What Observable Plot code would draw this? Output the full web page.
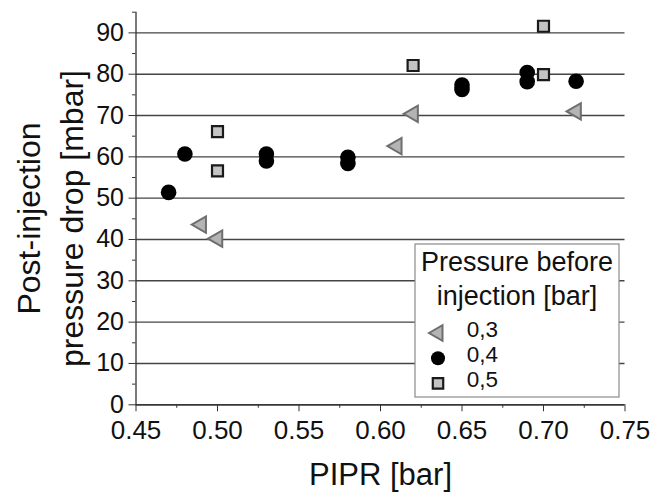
<!DOCTYPE html>
<html>
<head>
<meta charset="utf-8">
<script src="https://cdn.jsdelivr.net/npm/d3@7"></script>
<script src="https://cdn.jsdelivr.net/npm/@observablehq/plot@0.6"></script>
<style>
  html, body { margin: 0; padding: 0; background: #fff; }
  #wrap { position: relative; width: 667px; height: 493px; font-family: "Liberation Sans", Arial, sans-serif; color: #111; }
  #legend { position: absolute; left: 0; top: 0; pointer-events: none; }
</style>
</head>
<body>
<div id="wrap"></div>
<script>
// ---- data ----
const groups = ["0,3", "0,4", "0,5"];
const PIPR_03 = [0.49, 0.50, 0.61, 0.62, 0.72];
const DROP_03 = [43.6, 40.2, 62.6, 70.4, 71.0];
const PIPR_04 = [0.47, 0.48, 0.53, 0.53, 0.58, 0.58, 0.65, 0.65, 0.69, 0.69, 0.72];
const DROP_04 = [51.4, 60.7, 60.7, 59.0, 59.9, 58.4, 77.4, 76.3, 80.4, 78.2, 78.3];
const PIPR_05 = [0.50, 0.50, 0.62, 0.70, 0.70];
const DROP_05 = [66.1, 56.6, 82.1, 91.6, 79.9];
const xTicks = [0.45, 0.50, 0.55, 0.60, 0.65, 0.70, 0.75];
const xMinor = [0.475, 0.525, 0.575, 0.625, 0.675, 0.725];
const yTicks = [0, 10, 20, 30, 40, 50, 60, 70, 80, 90];
const yMinor = [5, 15, 25, 35, 45, 55, 65, 75, 85, 95];
const xLabel = "PIPR [bar]";
const yLabel = "Post-injection\npressure drop [mbar]";
const legendTitle = ["Pressure before", "injection [bar]"];

const toRows = (xs, ys, g) => xs.map((x, i) => ({x, y: ys[i], g}));
const d03 = toRows(PIPR_03, DROP_03, groups[0]);
const d04 = toRows(PIPR_04, DROP_04, groups[1]);
const d05 = toRows(PIPR_05, DROP_05, groups[2]);

const sty = {
  tri: {symbol: "triangle", r: 6.1, fill: "#b4b4b4", stroke: "#6e6e6e", strokeWidth: 2, rotate: -90},
  cir: {symbol: "circle", r: 7.8, fill: "#000", stroke: "none"},
  sq:  {symbol: "square", r: 6.2, fill: "#c4c4c4", stroke: "#1a1a1a", strokeWidth: 2.2}
};

const chart = Plot.plot({
  width: 667,
  height: 493,
  marginLeft: 135.5,
  marginRight: 42.5,
  marginTop: 11.7,
  marginBottom: 88.7,
  style: {fontFamily: "Liberation Sans, Arial, sans-serif", color: "#111", background: "#fff"},
  x: {domain: [0.45, 0.75], label: null},
  y: {domain: [0, 95], label: null},
  marks: [
    Plot.gridY(yTicks, {stroke: "#444", strokeOpacity: 1, strokeWidth: 1.4}),
    Plot.axisY(yTicks, {tickSize: 7, tickPadding: 5, fontSize: 25, label: null, stroke: "#333"}),
    Plot.axisY(yMinor, {tickSize: 3.5, tickFormat: () => "", label: null, stroke: "#333"}),
    Plot.axisX(xTicks, {tickSize: 7, tickPadding: 9, fontSize: 26, tickFormat: d3.format(".2f"), label: null, stroke: "#333"}),
    Plot.axisX(xMinor, {tickSize: 3.5, tickFormat: () => "", label: null, stroke: "#333"}),
    Plot.ruleX([0.45], {stroke: "#333", strokeWidth: 1.3}),
    Plot.ruleY([0], {stroke: "#333", strokeWidth: 1.3}),
    Plot.dot(d03, {x: "x", y: "y", ...sty.tri}),
    Plot.dot(d04, {x: "x", y: "y", ...sty.cir}),
    Plot.dot(d05, {x: "x", y: "y", ...sty.sq}),
    Plot.text([xLabel], {frameAnchor: "bottom", dy: 70.7, lineAnchor: "middle", fontSize: 31, fill: "#111"}),
    Plot.text([yLabel], {frameAnchor: "left", textAnchor: "middle", rotate: -90, dx: -88.5, dy: 10, lineAnchor: "middle", lineHeight: 1.35, fontSize: 32, fill: "#111"})
  ]
});
document.getElementById("wrap").appendChild(chart);

// ---- legend overlay ----
const lg = d3.select("#wrap").append("svg").attr("id", "legend")
  .attr("width", 667).attr("height", 493);
lg.append("rect").attr("x", 415).attr("y", 244).attr("width", 204).attr("height", 153)
  .attr("fill", "#fff").attr("stroke", "#8a8a8a").attr("stroke-width", 1.2);
legendTitle.forEach((t, i) => {
  lg.append("text").attr("x", 517).attr("y", 270.7 + i * 34.3)
    .attr("text-anchor", "middle").attr("font-size", 27)
    .attr("font-family", "Liberation Sans, Arial, sans-serif").attr("fill", "#111").text(t);
});
const symOf = {triangle: d3.symbolTriangle, circle: d3.symbolCircle, square: d3.symbolSquare};
[sty.tri, sty.cir, sty.sq].forEach((s, i) => {
  const cy = 333 + i * 25.2;
  const r = s.symbol === "circle" ? 7 : s.r * 0.95;
  lg.append("path")
    .attr("d", d3.symbol(symOf[s.symbol], Math.PI * r * r)())
    .attr("transform", `translate(438,${cy}) rotate(${s.rotate || 0})`)
    .attr("fill", s.fill).attr("stroke", s.stroke).attr("stroke-width", s.strokeWidth || 0);
  lg.append("text").attr("x", 466.7).attr("y", 337 + i * 25.2)
    .attr("font-size", 22.5).attr("font-family", "Liberation Sans, Arial, sans-serif")
    .attr("fill", "#111").text(groups[i]);
});
</script>
</body>
</html>
